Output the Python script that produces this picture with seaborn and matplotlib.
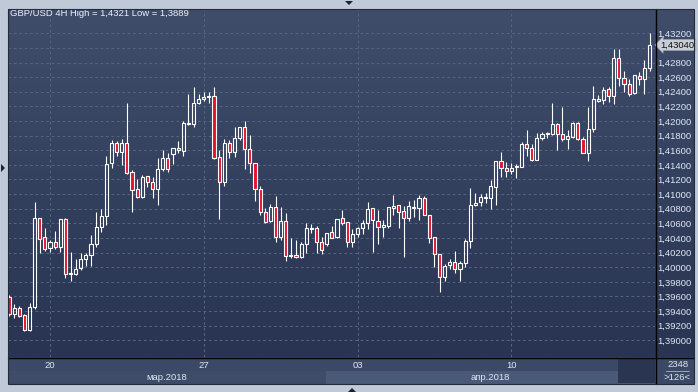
import numpy as np
import pandas as pd
import matplotlib
matplotlib.use("Agg")
import matplotlib.pyplot as plt
import seaborn as sns
from matplotlib.patches import Polygon, Rectangle
from matplotlib.lines import Line2D
from matplotlib.colors import LinearSegmentedColormap

# ---------------- data (GBP/USD 4H candles) ----------------
opens = [
    1.39596, 1.39356, 1.39438, 1.39342, 1.39137, 1.39460, 1.40669, 1.40417, 1.40259, 1.40341,
    1.40272, 1.40659, 1.39903, 1.39907, 1.39985, 1.40108, 1.40163, 1.40313, 1.40546, 1.40696,
    1.41421, 1.41699, 1.41576, 1.41699, 1.41298, 1.41066, 1.40964, 1.41248, 1.41170, 1.41066,
    1.41339, 1.41490, 1.41544, 1.41627, 1.41594, 1.41969, 1.41955, 1.42242, 1.42297, 1.42324,
    1.42342, 1.41503, 1.41170, 1.41695, 1.41580, 1.41772, 1.41914, 1.41613, 1.41421, 1.41066,
    1.40759, 1.40636, 1.40828, 1.40409, 1.40632, 1.40153, 1.40167, 1.40135, 1.40317, 1.40523,
    1.40532, 1.40349, 1.40317, 1.40477, 1.40409, 1.40669, 1.40622, 1.40341, 1.40450, 1.40532,
    1.40601, 1.40806, 1.40636, 1.40554, 1.40568, 1.40814, 1.40851, 1.40769, 1.40677, 1.40806,
    1.40806, 1.40943, 1.40714, 1.40409, 1.40176, 1.39870, 1.40030, 1.40075, 1.39971, 1.40053,
    1.40358, 1.40851, 1.40896, 1.40943, 1.40943, 1.41101, 1.41453, 1.41353, 1.41320, 1.41367,
    1.41375, 1.41685, 1.41627, 1.41467, 1.41772, 1.41818, 1.41822, 1.41959, 1.41822, 1.41750,
    1.41785, 1.41969, 1.41750, 1.41566, 1.41886, 1.42278, 1.42287, 1.42434, 1.42342, 1.42858,
    1.42584, 1.42502, 1.42379, 1.42620, 1.42570, 1.42721,
]
highs = [
    1.39620, 1.39497, 1.39469, 1.39356, 1.39506, 1.40888, 1.40680, 1.40532, 1.40372, 1.40495,
    1.40659, 1.40673, 1.40204, 1.40108, 1.40190, 1.40198, 1.40441, 1.40759, 1.40792, 1.41521,
    1.41740, 1.41726, 1.41754, 1.42246, 1.41330, 1.41207, 1.41261, 1.41254, 1.41238, 1.41490,
    1.41603, 1.41566, 1.41627, 1.41726, 1.42000, 1.42369, 1.42461, 1.42369, 1.42401, 1.42393,
    1.42461, 1.41603, 1.41750, 1.41740, 1.41914, 1.41914, 1.42000, 1.41809, 1.41421, 1.41111,
    1.40806, 1.40860, 1.40974, 1.40828, 1.40737, 1.40404, 1.40372, 1.40349, 1.40601, 1.40591,
    1.40564, 1.40417, 1.40464, 1.40564, 1.40655, 1.40783, 1.40622, 1.40519, 1.40554, 1.40646,
    1.40888, 1.40806, 1.40783, 1.40646, 1.40819, 1.40988, 1.40851, 1.40837, 1.40906, 1.40919,
    1.40988, 1.40974, 1.40714, 1.40409, 1.40176, 1.40040, 1.40108, 1.40222, 1.40089, 1.40386,
    1.41079, 1.41011, 1.41001, 1.41019, 1.41193, 1.41453, 1.41580, 1.41443, 1.41430, 1.41408,
    1.41709, 1.41877, 1.41681, 1.41832, 1.41854, 1.41854, 1.42242, 1.41969, 1.42196, 1.41877,
    1.41982, 1.41990, 1.41785, 1.42196, 1.42479, 1.42356, 1.42461, 1.42461, 1.42981, 1.42981,
    1.42684, 1.42575, 1.42629, 1.42674, 1.42834, 1.43210,
]
lows = [
    1.39332, 1.39301, 1.39323, 1.39127, 1.39127, 1.39424, 1.40190, 1.40226, 1.40212, 1.40249,
    1.40212, 1.39856, 1.39815, 1.39893, 1.39962, 1.40021, 1.40021, 1.40280, 1.40482, 1.40577,
    1.41353, 1.41521, 1.41398, 1.41275, 1.40759, 1.40943, 1.40951, 1.41093, 1.40951, 1.40851,
    1.41320, 1.41306, 1.41412, 1.41558, 1.41521, 1.41945, 1.41914, 1.42229, 1.42278, 1.42242,
    1.41484, 1.40664, 1.41115, 1.41490, 1.41503, 1.41740, 1.41339, 1.41293, 1.40910, 1.40714,
    1.40601, 1.40622, 1.40349, 1.40372, 1.40089, 1.40122, 1.40122, 1.40122, 1.40198, 1.40472,
    1.40190, 1.40181, 1.40294, 1.40395, 1.40395, 1.40577, 1.40272, 1.40280, 1.40417, 1.40454,
    1.40519, 1.40212, 1.40317, 1.40417, 1.40540, 1.40714, 1.40532, 1.40144, 1.40632, 1.40691,
    1.40646, 1.40714, 1.40327, 1.39999, 1.39657, 1.39815, 1.39975, 1.39917, 1.39815, 1.40007,
    1.40267, 1.40837, 1.40837, 1.40874, 1.40792, 1.40851, 1.41238, 1.41238, 1.41271, 1.41216,
    1.41375, 1.41521, 1.41453, 1.41467, 1.41740, 1.41763, 1.41809, 1.41603, 1.41731, 1.41617,
    1.41763, 1.41740, 1.41558, 1.41457, 1.41854, 1.42264, 1.42233, 1.42264, 1.42229, 1.42483,
    1.42401, 1.42346, 1.42369, 1.42492, 1.42369, 1.42688,
]
closes = [
    1.39356, 1.39438, 1.39337, 1.39137, 1.39451, 1.40669, 1.40382, 1.40245, 1.40341, 1.40272,
    1.40655, 1.39907, 1.39917, 1.39975, 1.40108, 1.40163, 1.40313, 1.40546, 1.40696, 1.41412,
    1.41699, 1.41576, 1.41699, 1.41293, 1.41052, 1.40964, 1.41230, 1.41170, 1.41066, 1.41339,
    1.41490, 1.41339, 1.41627, 1.41603, 1.41969, 1.41955, 1.42242, 1.42297, 1.42324, 1.42342,
    1.41498, 1.41161, 1.41695, 1.41580, 1.41772, 1.41914, 1.41613, 1.41421, 1.41066, 1.40751,
    1.40622, 1.40828, 1.40409, 1.40632, 1.40153, 1.40167, 1.40135, 1.40317, 1.40532, 1.40532,
    1.40349, 1.40235, 1.40464, 1.40406, 1.40655, 1.40609, 1.40349, 1.40450, 1.40532, 1.40609,
    1.40792, 1.40646, 1.40554, 1.40577, 1.40819, 1.40841, 1.40759, 1.40669, 1.40837, 1.40828,
    1.40943, 1.40714, 1.40404, 1.40176, 1.39870, 1.40021, 1.40075, 1.39971, 1.40053, 1.40363,
    1.40851, 1.40874, 1.40956, 1.40956, 1.41111, 1.41453, 1.41353, 1.41320, 1.41361, 1.41380,
    1.41685, 1.41627, 1.41467, 1.41763, 1.41818, 1.41832, 1.41959, 1.41818, 1.41750, 1.41795,
    1.41969, 1.41750, 1.41566, 1.41886, 1.42301, 1.42297, 1.42424, 1.42342, 1.42858, 1.42584,
    1.42502, 1.42365, 1.42629, 1.42570, 1.42721, 1.43040,
]

day_tick_candles = [8, 38, 68, 98]
day_labels = ["20", "27", "03", "10"]
month_labels = ["мар.2018", "апр.2018"]
month_first_candle = [-0.2, 61.8]
price_ticks = [1.390, 1.392, 1.394, 1.396, 1.398, 1.400, 1.402, 1.404, 1.406, 1.408, 1.410,
               1.412, 1.414, 1.416, 1.418, 1.420, 1.422, 1.424, 1.426, 1.428, 1.430, 1.432]
# the 1,43000 label is hidden behind the last-price tag in the original
price_tick_labels = ["1,39000", "1,39200", "1,39400", "1,39600", "1,39800", "1,40000",
                     "1,40200", "1,40400", "1,40600", "1,40800", "1,41000", "1,41200",
                     "1,41400", "1,41600", "1,41800", "1,42000", "1,42200", "1,42400",
                     "1,42600", "1,42800", "", "1,43200"]
title_text = "GBP/USD 4H High = 1,4321 Low = 1,3889"
last_price_label = "1,43040"
total_bars_label = "2348"
visible_bars_label = ">126<"

df = pd.DataFrame({"open": opens, "high": highs, "low": lows, "close": closes})
df["i"] = np.arange(len(df))
df["up"] = df["close"] >= df["open"]
df["body_lo"] = df[["open", "close"]].min(axis=1)
df["body_hi"] = df[["open", "close"]].max(axis=1)
df["body_h"] = df["body_hi"] - df["body_lo"]

# ---------------- style ----------------
sns.set_theme(style="dark")
plt.rcParams["font.family"] = ["Liberation Sans", "DejaVu Sans"]

FRAME = "#bfc9d7"
BG_TOP = "#3f4d6b"
BG_BOT = "#283451"
GRID = "#56647f"
RED = "#e3122e"
TXT = "#dfe7f3"
STRIP = "#3b4966"
MAR_C = "#3e4c69"
APR_C = "#4a5977"
DARK = "#2a3651"
FS = 6.8

W, H = 698, 392
fig = plt.figure(figsize=(W / 100, H / 100), dpi=100, facecolor=FRAME)


def box(x0, y0, x1, y1):
    return [x0 / W, 1 - y1 / H, (x1 - x0) / W, (y1 - y0) / H]


def P(x, y):
    return (x / W, 1 - y / H)


XLIM = (-0.2, 126.05)
YLIM = (1.38772, 1.43532)

# gradient background behind plot + price panel
bg = fig.add_axes(box(8, 9, 694, 357), zorder=0)
grad = np.linspace(0, 1, 256).reshape(-1, 1)
bg.imshow(grad, aspect="auto", origin="upper", extent=[0, 1, 0, 1],
          cmap=LinearSegmentedColormap.from_list("bg", [BG_TOP, BG_BOT]))
bg.set_axis_off()

# main candle axes
ax = fig.add_axes(box(8, 9, 655, 357), zorder=2)
ax.set_facecolor("none")
ax.set_xlim(*XLIM)
ax.set_ylim(*YLIM)
for s in ax.spines.values():
    s.set_visible(False)
ax.yaxis.tick_right()
ax.set_yticks(price_ticks)
ax.set_yticklabels(price_tick_labels)
ax.set_xticks(day_tick_candles)
ax.set_xticklabels([])
ax.tick_params(axis="y", length=0, pad=2.0, labelsize=FS, labelcolor=TXT)
ax.tick_params(axis="x", length=0)
ax.grid(True, color=GRID, lw=0.75, ls=(0, (2.6, 2.6)))
ax.set_axisbelow(True)

# wicks
ax.vlines(df["i"], df["body_hi"], df["high"], color="white", lw=0.8, zorder=3)
ax.vlines(df["i"], df["low"], df["body_lo"], color="white", lw=0.8, zorder=3)
# bodies
up = df[df["up"]]
dn = df[~df["up"]]
ax.bar(up["i"], up["body_h"], bottom=up["body_lo"], width=0.62, facecolor="none",
       edgecolor="white", linewidth=0.8, zorder=4)
ax.bar(dn["i"], dn["body_h"], bottom=dn["body_lo"], width=0.62, facecolor=RED,
       edgecolor="white", linewidth=0.8, zorder=4)

# last price tag
ax.text(1.0088, closes[-1], last_price_label, transform=ax.get_yaxis_transform(),
        ha="left", va="center", fontsize=FS, color="#111111", zorder=6, clip_on=False,
        bbox=dict(boxstyle="larrow,pad=0.12", fc="#c8cdd6", ec="#8e97a8", lw=0.4))

# title
fig.text(10 / W, 1 - 13.5 / H, title_text, ha="left", va="center", fontsize=FS,
         color="#eef2f8")

# bottom time strip
axx = fig.add_axes(box(8, 357, 655, 384), zorder=1)
axx.set_facecolor(STRIP)
axx.set_xlim(*XLIM)
axx.set_ylim(0, 1)
axx.set_xticks([])
axx.set_yticks([])
for s in axx.spines.values():
    s.set_visible(False)
month_edges = month_first_candle + [XLIM[1]]
for k, lab in enumerate(month_labels):
    axx.axvspan(month_edges[k], month_edges[k + 1], ymin=0, ymax=0.49,
                color=[MAR_C, APR_C][k], lw=0)
axx.axvspan(118.8, XLIM[1], ymin=0.03, ymax=0.95, color=DARK, lw=0)
for t, lab in zip(day_tick_candles, day_labels):
    axx.text(t, 0.68, lab, ha="center", va="center", fontsize=FS, color=TXT)
for k, lab in enumerate(month_labels):
    lo = month_edges[k]
    hi = min(month_edges[k + 1], XLIM[1])
    axx.text((lo + hi) / 2, 0.25, lab, ha="center", va="center", fontsize=FS, color=TXT)

# bar-count corner
axc = fig.add_axes(box(655, 357, 694, 384), zorder=1)
axc.set_facecolor(STRIP)
axc.set_xlim(0, 1)
axc.set_ylim(0, 1)
axc.set_xticks([])
axc.set_yticks([])
for s in axc.spines.values():
    s.set_visible(False)
axc.text(0.58, 0.71, total_bars_label, ha="center", va="center", fontsize=FS, color=TXT)
axc.text(0.57, 0.24, visible_bars_label, ha="center", va="center", fontsize=FS, color=TXT)
axc.plot([0.28, 0.88], [0.48, 0.48], color="#aab4c6", lw=0.6)

# separators and frame
fig.add_artist(Line2D([655.5 / W, 655.5 / W], [1 - 9 / H, 1 - 384 / H], color="black",
                      lw=1.0, transform=fig.transFigure, zorder=10))
fig.add_artist(Line2D([8 / W, 694 / W], [1 - 357.5 / H, 1 - 357.5 / H], color="black",
                      lw=1.0, transform=fig.transFigure, zorder=10))
fig.add_artist(Rectangle(P(8, 384), 686 / W, 375 / H, fill=False, ec="#222b3c", lw=0.8,
                         transform=fig.transFigure, zorder=10))
for tri in ([P(345, 1), P(353, 1), P(349, 5)],
            [P(348, 392), P(356, 392), P(352, 388)],
            [P(1, 164), P(1, 172), P(5, 168)]):
    fig.add_artist(Polygon(tri, closed=True, fc="#1b2333", ec="none",
                           transform=fig.transFigure, zorder=10))

fig.savefig("out.png", dpi=100, facecolor=FRAME)
